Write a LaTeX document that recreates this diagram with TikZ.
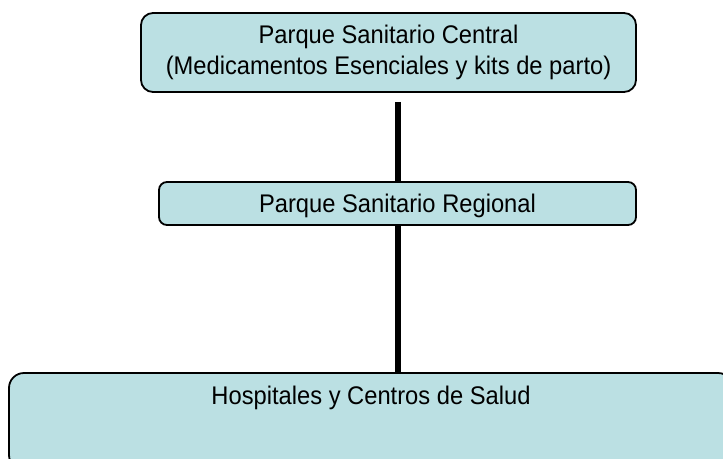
\documentclass[tikz,border=0pt]{standalone}
\usepackage{fontspec}
\setmainfont[FakeStretch=0.93]{Liberation Sans}
\definecolor{boxfill}{RGB}{187,224,227}
\begin{document}
\begin{tikzpicture}[x=1pt,y=-1pt,
  box/.style={draw=black, line width=1.8pt, fill=boxfill, rounded corners=#1, inner sep=0pt, align=center,
    font=\fontsize{25.5}{31}\selectfont},
  box/.default=10pt,
  link/.style={line width=6pt, draw=black}]
\useasboundingbox (0,0) rectangle (723,458);
\clip (0,0) rectangle (723,458);
\node[box=12pt, minimum width=495pt, minimum height=79pt] (central) at (388.5,52.5)
  {Parque Sanitario Central\\(Medicamentos Esenciales y kits de parto)};
\node[box=8pt, minimum width=477pt, minimum height=43pt, text height=18.3pt, text depth=0pt] (regional) at (397.5,203.5)
  {Parque Sanitario Regional};
\node[box=15pt, minimum width=724pt, minimum height=97pt] (hosp) at (371,421.5) {};
\node[font=\fontsize{25.5}{31}\selectfont, inner sep=0pt, anchor=base] (hosptxt) at (371,404) {Hospitales y Centros de Salud};
\draw[link, shorten <=9pt] (central.south -| 398,0) -- (regional.north -| 398,0);
\draw[link] (regional.south -| 398,0) -- (hosp.north -| 398,0);
\end{tikzpicture}
\end{document}
